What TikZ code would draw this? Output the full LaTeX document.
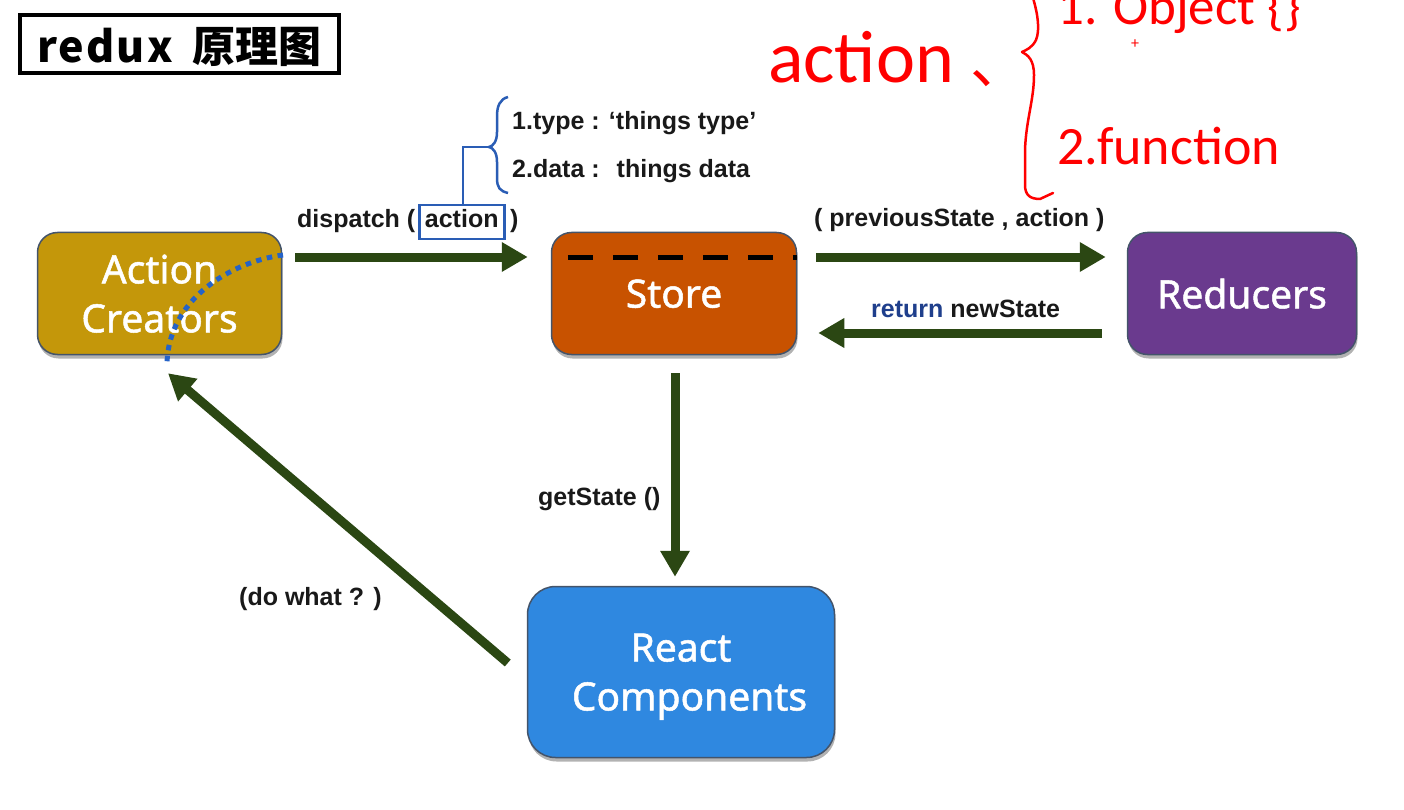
\documentclass[tikz,border=0pt]{standalone}
\usepackage{fontspec}
\setmainfont{Liberation Sans}
\newfontfamily\boxfont{Noto Sans}[FakeBold=1.3]
\newfontfamily\cjkfont{Noto Sans CJK SC}
\newfontfamily\redfont{Carlito}
\usetikzlibrary{arrows.meta,shadows,calc}
\definecolor{acfill}{HTML}{C4970A}
\definecolor{stfill}{HTML}{C85200}
\definecolor{rdfill}{HTML}{6A3A8E}
\definecolor{rcfill}{HTML}{2F88E0}
\definecolor{arrowgreen}{HTML}{2B4713}
\definecolor{bluedeco}{HTML}{2A5DB5}
\definecolor{dotblue}{HTML}{2563C8}
\definecolor{boxborder}{HTML}{44546A}
\definecolor{retblue}{HTML}{1F3F8C}
\definecolor{redann}{HTML}{FF0000}
\begin{document}
\begin{tikzpicture}[x=1pt,y=-1pt,
  box/.style={draw=boxborder, line width=1.5pt, rounded corners=20pt, text=white,
    font=\boxfont\fontsize{39}{49}\selectfont, align=center, inner sep=0pt, text depth=0pt,
    drop shadow={shadow xshift=1pt, shadow yshift=-4pt, opacity=0.3, fill=black}},
  lbl/.style={font=\bfseries\fontsize{25}{30}\selectfont, text=black!90, inner sep=0pt},
  redtxt/.style={text=redann, inner sep=0pt},
  bigarrow/.style={draw=arrowgreen, line width=9pt, -{Triangle[width=28pt,length=26pt]}},
  bluestroke/.style={draw=bluedeco, line width=2.5pt}
]
\fill[white] (0,0) rectangle (1404,810);
\useasboundingbox (0,0) rectangle (1404,810);

% title
\node[draw=black, line width=4pt, minimum width=319, minimum height=58, inner sep=0pt,
  text height=40pt, text depth=2pt, font=\cjkfont\bfseries\fontsize{43}{50}\selectfont]
  (title) at (179.5,44) {{\addfontfeature{LetterSpace=5}redux}\hspace{20pt}原理图};

% boxes
\node[box, fill=acfill, minimum width=244, minimum height=122] (ac) at (159.5,293.5) {Action\\Creators};
\node[box, fill=stfill, minimum width=245, minimum height=122] (st) at (674,293.5) {Store};
\node[box, fill=rdfill, minimum width=229, minimum height=122] (rd) at (1242,293.5) {Reducers};
\node[box, fill=rcfill, minimum width=307, minimum height=171, rounded corners=28pt] (rc) at (681,672) {React\\\hspace*{17pt}Components};

% store dashed line
\draw[black, line width=5pt, dash pattern=on 25pt off 20pt] ([xshift=17pt,yshift=36.5pt]st.west) -- ([yshift=36.5pt]st.east);

% dotted curve on Action Creators
\coordinate (dotA) at (283,255);
\coordinate (dotB) at (167,364);
\draw[dotblue, line width=5pt, dash pattern=on 5.5pt off 5.5pt] (dotA) .. controls (230,262) and (168,300) .. (dotB);

% arrows
\draw[bigarrow] ([xshift=13pt,yshift=36.5pt]ac.east) -- ([xshift=-23pt,yshift=36.5pt]st.west);
\draw[bigarrow] ([xshift=19pt,yshift=36.5pt]st.east) -- ([xshift=-21pt,yshift=36.5pt]rd.west);
\draw[bigarrow] ([xshift=-25pt,yshift=-39.5pt]rd.west) -- ([xshift=21pt,yshift=-39.5pt]st.east);
\draw[bigarrow] ([xshift=1pt,yshift=-18pt]st.south) -- ([xshift=1pt,yshift=9pt]st.south |- rc.north);
\draw[bigarrow] ([xshift=-19pt,yshift=9pt]rc.west) -- ([xshift=8.5pt,yshift=-18pt]ac.south);

% labels
\node[lbl, anchor=base west] (dsp) at (297,228) {dispatch (};
\node[lbl, draw=bluedeco, line width=2.5pt, minimum width=85, minimum height=34,
  text height=12pt, text depth=0pt, anchor=west] (act) at (418,222) {action};
\node[lbl, anchor=base west] (rp) at (510,228) {)};
\node[lbl, anchor=base west] (ty) at (512,130) {1.type : ‘things type’};
\node[lbl, anchor=base west] (da) at (512,178) {2.data :\hspace{17pt}things data};
\node[lbl, anchor=base west] (ps) at (814,226) {( previousState , action )};
\node[lbl, anchor=base west] (rn) at (871,317) {\textcolor{retblue}{return} newState};
\node[lbl, anchor=base west] (gs) at (538,505) {getState ()};
\node[lbl, anchor=base west] (dw) at (239,605) {(do what ? )};

% blue brace and connector
\coordinate (bracetip) at (489,147);
\draw[bluestroke] ([xshift=1pt]act.north) |- (bracetip);
\draw[bluestroke] (508,97) .. controls (500,99) and (497,106) .. (497,116) -- (497,132)
  .. controls (497,142) and (493,146) .. (bracetip)
  .. controls (493,148) and (497,152) .. (497,162) -- (497,178)
  .. controls (497,188) and (500,191) .. (508,193);

% red annotations
\node[redtxt, font=\redfont\fontsize{74}{80}\selectfont, anchor=base west] (actred) at (768,83) {action};
\node[redtxt, font=\cjkfont\fontsize{58}{60}\selectfont, anchor=base west] (comma) at (970,84) {、};
\node[redtxt, font=\redfont\fontsize{53}{60}\selectfont, anchor=base west] (obj) at (1057,25) {1. Object \{\}};
\node[redtxt, font=\redfont\fontsize{54}{60}\selectfont, anchor=base west] (fn) at (1057,165) {2.function};
\node[redtxt, font=\redfont\fontsize{16}{16}\selectfont] (cursor) at (1135,44) {+};
\draw[redann, line width=2.5pt, line cap=round, line join=round]
  (1033,-2) .. controls (1038,15) and (1040,30) .. (1036,40)
  .. controls (1032,48) and (1026,50) .. (1022,52)
  .. controls (1028,55) and (1034,60) .. (1034,75)
  .. controls (1034,100) and (1026,120) .. (1025,150) -- (1025,185)
  .. controls (1025,195) and (1030,199) .. (1040,199) -- (1053,193);
\end{tikzpicture}
\end{document}
